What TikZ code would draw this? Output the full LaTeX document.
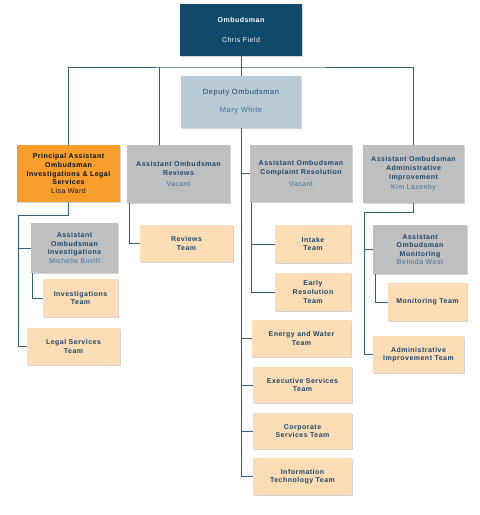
\documentclass[tikz,border=0pt]{standalone}
\usepackage{fontspec}
\setmainfont{Liberation Sans}[LetterSpace=7]
\usetikzlibrary{shadows}

\definecolor{ombblue}{RGB}{16,74,106}
\definecolor{depblue}{RGB}{183,202,214}
\definecolor{palorange}{RGB}{248,158,45}
\definecolor{rolegrey}{RGB}{191,191,191}
\definecolor{teampeach}{RGB}{252,221,182}
\definecolor{linkblue}{RGB}{50,96,122}
\definecolor{txtblue}{RGB}{28,70,104}
\definecolor{nameblue}{RGB}{62,110,148}

\begin{document}
\begin{tikzpicture}[x=1pt,y=-1pt,
  sz/.style 2 args={minimum width=#1pt,minimum height=#2pt},
  box/.style={align=center,inner sep=1pt,text=txtblue,
    font=\fontsize{7}{8.6}\selectfont\bfseries,
    drop shadow={shadow xshift=0.6pt,shadow yshift=-1pt,opacity=0.35}},
  role/.style={box,fill=rolegrey},
  team/.style={box,fill=teampeach},
  link/.style={draw=linkblue,line width=0.8pt}]
\useasboundingbox (0,0) rectangle (480,515);

\node[box,fill=ombblue,text=white,sz={122}{52}] (omb) at (241,30)
  {Ombudsman\\[11pt]\mdseries Chris Field};
\node[box,fill=depblue,sz={120}{52},font=\fontsize{7.5}{9}\selectfont] (dep) at (241,102)
  {Deputy Ombudsman\\[9pt]\color{nameblue}Mary White};

\node[box,fill=palorange,text=black!75!ombblue,sz={103}{57}] (pal) at (68.5,173.5)
  {Principal Assistant\\Ombudsman\\Investigations \& Legal\\Services\\\mdseries Lisa Ward};
\node[role,sz={103}{58}] (rev) at (178.5,174)
  {Assistant Ombudsman\\Reviews\\[3pt]\mdseries\color{nameblue}Vacant};
\node[role,sz={102}{57}] (cr) at (301,173.5)
  {Assistant Ombudsman\\Complaint Resolution\\[3pt]\mdseries\color{nameblue}Vacant};
\node[role,sz={101}{58}] (ai) at (413.5,174)
  {Assistant Ombudsman\\Administrative\\Improvement\\[2pt]\mdseries\color{nameblue}Kim Lazenby};

\node[role,sz={87}{50}] (aoi) at (74.5,248)
  {Assistant\\Ombudsman\\Investigations\\\mdseries\color{nameblue}Michelle Bovill};
\node[team,sz={75}{38}] (invt) at (80.5,298) {Investigations\\Team};
\node[team,sz={93}{37}] (legt) at (73.5,346.5) {Legal Services\\Team};

\node[team,sz={93}{37}] (revt) at (186.5,243.5) {Reviews\\Team};

\node[team,sz={76}{38}] (intt) at (313,244) {Intake\\Team};
\node[team,sz={76}{38}] (ert) at (313,292) {Early\\Resolution\\Team};
\node[team,sz={99}{37}] (ewt) at (301.5,338.5) {Energy and Water\\Team};
\node[team,sz={99}{36}] (est) at (302.5,385) {Executive Services\\Team};
\node[team,sz={99}{36}] (cst) at (302.5,431) {Corporate\\Services Team};
\node[team,sz={99}{37}] (itt) at (302.5,476.5) {Information\\Technology Team};

\node[role,sz={94}{49}] (mon) at (420,249.5)
  {Assistant\\Ombudsman\\Monitoring\\\mdseries\color{nameblue}Belinda West};
\node[team,sz={79}{38}] (mont) at (427.5,302) {Monitoring Team};
\node[team,sz={91}{37}] (ait) at (418.5,354.5) {Administrative\\Improvement Team};

\coordinate (topbus) at (241,67);
\coordinate (palbus) at (18,215);
\coordinate (aibus) at (364,212);

\draw[link] (omb) -- (dep);
\draw[link] (pal.north) |- (topbus) -| (ai.north);
\draw[link] ([xshift=-19.5pt]rev.north) -- ([xshift=-19.5pt]rev.north |- topbus);

\draw[link] (dep.south) |- (itt.west);
\draw[link] (dep.south |- cr.west) -- (cr.west);
\draw[link] (dep.south |- ewt.west) -- (ewt.west);
\draw[link] (dep.south |- est.west) -- (est.west);
\draw[link] (dep.south |- cst.west) -- (cst.west);

\draw[link] (pal.south) |- (palbus) |- (legt.west);
\draw[link] (palbus |- aoi.west) -- (aoi.west);
\draw[link] ([xshift=2pt]aoi.south west) |- (invt.west);

\draw[link] ([xshift=3pt]rev.south west) |- (revt.west);

\draw[link] ([xshift=2pt]cr.south west) |- (ert.west);
\draw[link] ([xshift=2pt]cr.south west |- intt.west) -- (intt.west);

\draw[link] (ai.south) |- (aibus) |- (ait.west);
\draw[link] (aibus |- mon.west) -- (mon.west);
\draw[link] ([xshift=3pt]mon.south west) |- (mont.west);
\end{tikzpicture}
\end{document}
